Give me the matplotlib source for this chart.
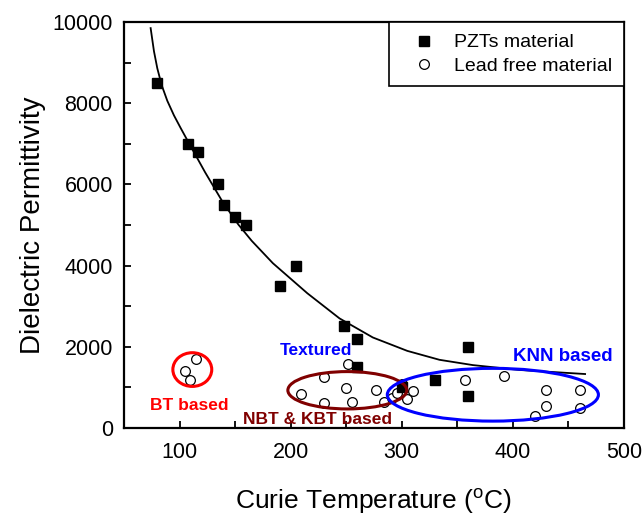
import matplotlib
matplotlib.use("Agg")
import matplotlib.pyplot as plt
import matplotlib.ticker as ticker
from matplotlib.patches import Ellipse

# --- data ---
PZT_X = [80, 108, 117, 135, 140, 150, 160, 190, 205, 248, 260, 260, 300, 330, 360, 360]
PZT_Y = [8500, 7000, 6800, 6000, 5500, 5200, 5000, 3500, 4000, 2520, 2200, 1500, 1000, 1180, 2000, 800]

LEADFREE_X = [105, 109, 115, 209, 230, 230, 250, 252, 255, 277, 284, 291, 296, 300, 305, 310,
              357, 392, 420, 430, 430, 460, 460]
LEADFREE_Y = [1400, 1180, 1690, 845, 1265, 608, 985, 1576, 640, 936, 648, 750, 855, 1076, 707, 908,
              1182, 1281, 296, 936, 549, 936, 500]

# fitted trend line
FIT_X = [74, 77, 80, 84, 89, 95, 101, 108, 123, 139, 153, 165, 184, 215, 244, 274, 305, 334,
         364, 406, 465]
FIT_Y = [9850, 9280, 8860, 8440, 8060, 7700, 7390, 7040, 6300, 5560, 5010, 4610, 4060, 3320,
         2700, 2230, 1900, 1680, 1550, 1430, 1330]

# group outlines: center x, center y, width, height, colour
GROUPS = [
    (111.5, 1440, 35, 830, "#ff0000"),
    (251, 930, 107, 920, "#800000"),
    (382, 820, 190, 1300, "#0000ff"),
]

# free text labels: text, x, y, colour, size
LABELS = [
    ("BT based", 109, 566, "#ff0000", 12.5),
    ("NBT & KBT based", 224, 222, "#800000", 12.5),
    ("Textured", 223, 1905, "#0000ff", 12.5),
    ("KNN based", 445, 1773, "#0000ff", 13.5),
]

plt.rcParams['font.family'] = ['Liberation Sans', 'DejaVu Sans']
plt.rcParams['mathtext.default'] = 'regular'

fig = plt.figure(figsize=(6.44, 5.16), dpi=100)
ax = fig.add_axes([0.1925, 0.1705, 0.7764, 0.7868])

ax.plot(FIT_X, FIT_Y, color='black', lw=1.3, zorder=2)
ax.plot(PZT_X, PZT_Y, 's', color='black', ms=7.3, ls='none', label='PZTs material', zorder=4)
ax.plot(LEADFREE_X, LEADFREE_Y, 'o', mfc='white', mec='black', mew=0.9, ms=7, ls='none',
        label='Lead free material', zorder=3)

for cx, cy, w, h, col in GROUPS:
    ax.add_patch(Ellipse((cx, cy), w, h, fill=False, edgecolor=col, lw=2.2, zorder=5))

for txt, x, y, col, fs in LABELS:
    ax.text(x, y, txt, color=col, fontsize=fs, fontweight='bold', ha='center', va='center', zorder=6)

ax.set_xlim(50, 500)
ax.set_ylim(0, 10000)
ax.xaxis.set_major_locator(ticker.MultipleLocator(100))
ax.xaxis.set_minor_locator(ticker.MultipleLocator(50))
ax.yaxis.set_major_locator(ticker.MultipleLocator(2000))
ax.yaxis.set_minor_locator(ticker.MultipleLocator(1000))
ax.tick_params(which='both', direction='in', length=5, width=1.3, labelsize=15.5)
ax.tick_params(axis='x', pad=10)
ax.tick_params(axis='y', pad=8)

for s in ax.spines.values():
    s.set_linewidth(1.6)

ax.set_xlabel(r'Curie Temperature ($^\mathregular{o}$C)', fontsize=19, labelpad=17)
ax.set_ylabel('Dielectric Permittivity', fontsize=20, labelpad=5)

leg = ax.legend(loc='upper right', fontsize=14, frameon=True, fancybox=False, framealpha=1,
                edgecolor='black', borderaxespad=0, borderpad=0.6, handlelength=2.4,
                handletextpad=0.35, labelspacing=0.3)
leg.get_frame().set_linewidth(1.2)

fig.savefig("out.png", dpi=100)
